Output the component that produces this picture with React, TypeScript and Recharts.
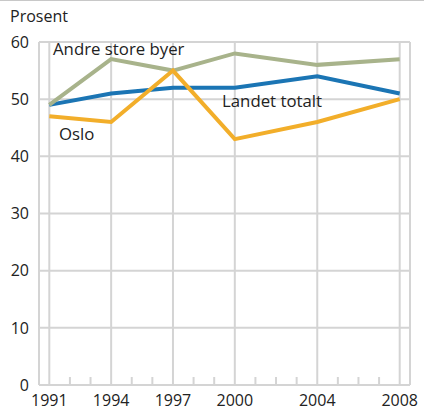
import React from 'react';
import { LineChart, Line, XAxis, YAxis, CartesianGrid, ReferenceLine, ReferenceDot } from 'recharts';

const years = [1991, 1994, 1997, 2000, 2004, 2008];
const landetTotalt = [49, 51, 52, 52, 54, 51];
const andreStoreByer = [49, 57, 55, 58, 56, 57];
const oslo = [47, 46, 55, 43, 46, 50];
const yTicks = [0, 10, 20, 30, 40, 50, 60];
const minorYears = Array.from({ length: 18 }, (_, i) => 1991 + i).filter((y) => !years.includes(y));
const minorTickLength = 1.4;

const seriesLabels = [
  { text: 'Andre store byer', x: 1991.18, y: 57.7 },
  { text: 'Landet totalt', x: 1999.38, y: 48.6 },
  { text: 'Oslo', x: 1991.47, y: 42.85 },
];

const data = years.map((year, i) => ({
  year,
  landet: landetTotalt[i],
  andre: andreStoreByer[i],
  oslo: oslo[i],
}));

const FONT = '"Open Sans", "Noto Sans", sans-serif';
const GRID = '#d4d4d4';
const TEXT = '#222222';

const LabelText = (props: any) => {
  const { viewBox, value } = props;
  return (
    <text x={viewBox.x} y={viewBox.y} fill={TEXT} fontSize={16.8} fontFamily={FONT} textAnchor="start">
      {value}
    </text>
  );
};

export default function App() {
  return (
    <div style={{ position: 'absolute', left: 0, top: 0, width: 424, height: 413, background: '#fff' }}>
      <div style={{ position: 'absolute', left: 0, top: 0, width: 424, height: 1, background: '#c8c8c8' }} />
      <div
        style={{
          position: 'absolute',
          left: 10,
          top: 5,
          fontFamily: FONT,
          fontSize: 16,
          color: TEXT,
          lineHeight: '22px',
        }}
      >
        Prosent
      </div>
      <LineChart width={424} height={413} data={data} margin={{ top: 42, right: 14, left: 0, bottom: 0 }}>
        <CartesianGrid stroke={GRID} strokeWidth={2} />
        <XAxis
          type="number"
          dataKey="year"
          domain={[1990.5, 2008.5]}
          ticks={years}
          interval={0}
          height={28}
          tickSize={0}
          tickMargin={10}
          axisLine={{ stroke: GRID, strokeWidth: 2 }}
          tickLine={false}
          tick={{ fill: TEXT, fontSize: 16, fontFamily: FONT }}
        />
        <YAxis
          domain={[0, 60]}
          ticks={yTicks}
          interval={0}
          width={39}
          tickSize={0}
          tickMargin={10}
          axisLine={{ stroke: GRID, strokeWidth: 2 }}
          tickLine={false}
          tick={{ fill: TEXT, fontSize: 16, fontFamily: FONT }}
        />
        <ReferenceLine x={2008.5} stroke={GRID} strokeWidth={2} />
        {minorYears.map((yr) => (
          <ReferenceLine
            key={yr}
            segment={[
              { x: yr, y: 0 },
              { x: yr, y: minorTickLength },
            ]}
            stroke={GRID}
            strokeWidth={2}
          />
        ))}
        <Line dataKey="landet" stroke="#1b75b4" strokeWidth={4} dot={false} isAnimationActive={false} />
        <Line dataKey="andre" stroke="#a8b38b" strokeWidth={4} dot={false} isAnimationActive={false} />
        <Line dataKey="oslo" stroke="#f2ae2a" strokeWidth={4} dot={false} isAnimationActive={false} />
        {seriesLabels.map((l) => (
          <ReferenceDot
            key={l.text}
            x={l.x}
            y={l.y}
            r={0}
            fill="none"
            stroke="none"
            label={<LabelText value={l.text} />}
          />
        ))}
      </LineChart>
    </div>
  );
}
